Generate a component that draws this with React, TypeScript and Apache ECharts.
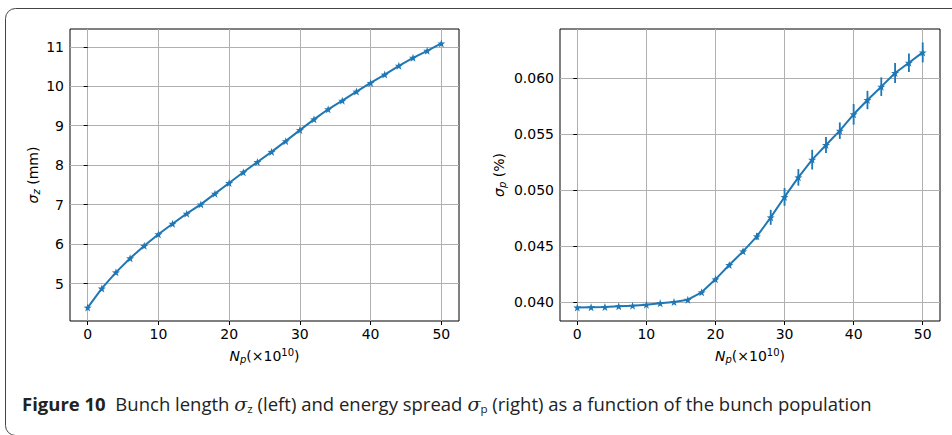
import React, { useEffect, useRef } from "react";
import * as echarts from "echarts";

const nP: number[] = [0, 2, 4, 6, 8, 10, 12, 14, 16, 18, 20, 22, 24, 26, 28, 30, 32, 34, 36, 38, 40, 42, 44, 46, 48, 50];
const sigmaZ: number[] = [4.39, 4.875, 5.283, 5.64, 5.955, 6.25, 6.514, 6.77, 7.005, 7.277, 7.547, 7.82, 8.08, 8.336, 8.608, 8.888, 9.16, 9.415, 9.634, 9.863, 10.084, 10.295, 10.517, 10.72, 10.898, 11.085];
const sigmaP: number[] = [0.03953, 0.03955, 0.03957, 0.03964, 0.0397, 0.03979, 0.03991, 0.04003, 0.04023, 0.04089, 0.04205, 0.04333, 0.04455, 0.04589, 0.04759, 0.04941, 0.05116, 0.05274, 0.05405, 0.05533, 0.05679, 0.05807, 0.05926, 0.06048, 0.0614, 0.06232];
const sigmaPErr: number[] = [0.00003, 0.00003, 0.00003, 0.00003, 0.00004, 0.00004, 0.00005, 0.00005, 0.00006, 0.00008, 0.0001, 0.00014, 0.0002, 0.0003, 0.00067, 0.00079, 0.00074, 0.00088, 0.00071, 0.00074, 0.00092, 0.00082, 0.00083, 0.00089, 0.00082, 0.00089];
const xTicks: number[] = [0, 10, 20, 30, 40, 50];
const zTicks: number[] = [5, 6, 7, 8, 9, 10, 11];
const pTicks: number[] = [0.04, 0.045, 0.05, 0.055, 0.06];

const BLUE = "#1f77b4";
const FONT = "DejaVu Sans";
const FS = 14;
const STAR = "path://M0,-10 L2.35,-3.24 L9.51,-3.09 L3.8,1.24 L5.88,8.09 L0,4 L-5.88,8.09 L-3.8,1.24 L-9.51,-3.09 L-2.35,-3.24 Z";

const nameRich = {
  i: { fontFamily: FONT, fontSize: FS, fontStyle: "italic", color: "#000" },
  sub: { fontFamily: FONT, fontSize: 10, fontStyle: "italic", color: "#000", padding: [7, 0, 0, 0] },
  sup: { fontFamily: FONT, fontSize: 10, color: "#000", padding: [0, 0, 7, 0] },
};

function xAxis(gridIndex: number) {
  return {
    type: "value",
    gridIndex,
    min: -2.5,
    max: 52.5,
    name: "{i|N}{sub|p}(×10{sup|10})",
    nameLocation: "middle",
    nameGap: 26,
    nameTextStyle: { fontFamily: FONT, fontSize: FS, color: "#000", rich: nameRich },
    axisLine: { show: false },
    axisTick: { show: true, inside: false, length: 4, customValues: xTicks, lineStyle: { color: "#000", width: 1 } },
    axisLabel: { customValues: xTicks, fontFamily: FONT, fontSize: FS, color: "#000", margin: 6 },
    splitLine: { show: true, lineStyle: { color: "#b0b0b0", width: 1 } },
  };
}

export default function App() {
  const ref = useRef<HTMLDivElement>(null);
  useEffect(() => {
    if (!ref.current) return;
    const chart = echarts.init(ref.current, null, { renderer: "svg" });
    const errData = nP.map((x, i) => [x, sigmaP[i], sigmaPErr[i]]);
    chart.setOption({
      animation: false,
      backgroundColor: "#fff",
      grid: [
        { left: 70, top: 29, width: 389, height: 292, show: true, borderColor: "#000", borderWidth: 1, backgroundColor: "transparent" },
        { left: 560, top: 29, width: 380, height: 292, show: true, borderColor: "#000", borderWidth: 1, backgroundColor: "transparent" },
      ],
      xAxis: [xAxis(0), xAxis(1)],
      yAxis: [
        {
          type: "value",
          gridIndex: 0,
          min: 4.05,
          max: 11.45,
          name: "{i|σ}{sub|z} (mm)",
          nameLocation: "middle",
          nameGap: 29,
          nameRotate: 90,
          nameTextStyle: { fontFamily: FONT, fontSize: FS, color: "#000", rich: nameRich },
          axisLine: { show: false },
          axisTick: { show: true, inside: false, length: 4, customValues: zTicks, lineStyle: { color: "#000", width: 1 } },
          axisLabel: { customValues: zTicks, fontFamily: FONT, fontSize: FS, color: "#000", margin: 6 },
          splitLine: { show: true, lineStyle: { color: "#b0b0b0", width: 1 } },
        },
        {
          type: "value",
          gridIndex: 1,
          min: 0.03833,
          max: 0.06441,
          name: "{i|σ}{sub|p} (%)",
          nameLocation: "middle",
          nameGap: 53,
          nameRotate: 90,
          nameTextStyle: { fontFamily: FONT, fontSize: FS, color: "#000", rich: nameRich },
          axisLine: { show: false },
          axisTick: { show: true, inside: false, length: 4, customValues: pTicks, lineStyle: { color: "#000", width: 1 } },
          axisLabel: { customValues: pTicks, fontFamily: FONT, fontSize: FS, color: "#000", margin: 6, formatter: (v: number) => v.toFixed(3) },
          splitLine: { show: true, lineStyle: { color: "#b0b0b0", width: 1 } },
        },
      ],
      series: [
        {
          type: "line",
          xAxisIndex: 0,
          yAxisIndex: 0,
          data: nP.map((x, i) => [x, sigmaZ[i]]),
          lineStyle: { color: BLUE, width: 2 },
          itemStyle: { color: BLUE },
          symbol: STAR,
          symbolSize: 8,
          showSymbol: true,
        },
        {
          type: "line",
          xAxisIndex: 1,
          yAxisIndex: 1,
          data: nP.map((x, i) => [x, sigmaP[i]]),
          lineStyle: { color: BLUE, width: 2 },
          itemStyle: { color: BLUE },
          symbol: STAR,
          symbolSize: 8,
          showSymbol: true,
        },
        {
          type: "custom",
          xAxisIndex: 1,
          yAxisIndex: 1,
          z: 5,
          data: errData,
          renderItem: (params: any, api: any) => {
            const x = api.value(0);
            const y = api.value(1);
            const e = api.value(2);
            const p1 = api.coord([x, y - e]);
            const p2 = api.coord([x, y + e]);
            return {
              type: "line",
              shape: { x1: p1[0], y1: p1[1], x2: p2[0], y2: p2[1] },
              style: { stroke: BLUE, lineWidth: 1.8 },
            };
          },
        },
      ],
      graphic: [
        {
          type: "rect",
          shape: { x: 5.5, y: 8.5, width: 980, height: 427, r: 10 },
          style: { fill: "none", stroke: "#444", lineWidth: 1 },
          silent: true,
        },
        {
          type: "text",
          x: 22,
          y: 414,
          scaleX: 1.058,
          style: {
            text: "{b|Figure 10}  Bunch length {i|σ}{s|z} (left) and energy spread {i|σ}{s|p} (right) as a function of the bunch population",
            fontFamily: "Open Sans",
            fontSize: 17.5,
            fill: "#222",
            verticalAlign: "bottom",
            rich: {
              b: { fontFamily: "Open Sans", fontSize: 17.5, fontWeight: "bold", fill: "#222" },
              i: { fontFamily: "DejaVu Serif", fontSize: 18, fontStyle: "italic", fill: "#222" },
              s: { fontFamily: "Open Sans", fontSize: 11, fill: "#222", padding: [8, 0, 0, 0] },
            },
          },
        },
      ],
    });
    return () => chart.dispose();
  }, []);
  return <div ref={ref} style={{ position: "fixed", left: 0, top: 0, width: 952, height: 435 }} />;
}
